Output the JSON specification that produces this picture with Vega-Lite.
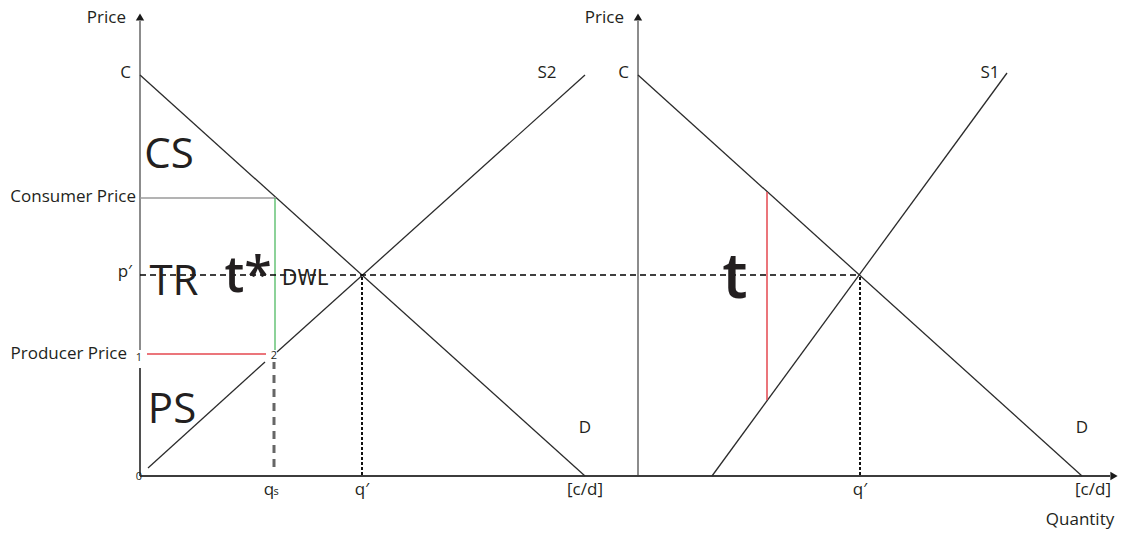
{
  "$schema": "https://vega.github.io/schema/vega-lite/v6.json",
  "autosize": {"type": "fit", "contains": "padding"},
  "width": 1126,
  "height": 533,
  "padding": 0,
  "background": "white",
  "config": {"view": {"stroke": null}, "text": {"font": "Open Sans"}},
  "datasets": {
    "segs": [
      {"kind": "axis", "x": 0, "y": 126, "x2": 0, "y2": 455},
      {"kind": "axis_dark", "x": 0, "y": 0, "x2": 0, "y2": 108},
      {"kind": "axis", "x": 498, "y": 0, "x2": 498, "y2": 455},
      {"kind": "xaxis", "x": 0, "y": 0, "x2": 970, "y2": 0},
      {"kind": "curve", "x": 0, "y": 401, "x2": 445, "y2": 0},
      {"kind": "curve", "x": 8, "y": 8, "x2": 125, "y2": 114},
      {"kind": "curve", "x": 137, "y": 124, "x2": 445, "y2": 401},
      {"kind": "curve", "x": 498, "y": 401, "x2": 942, "y2": 0},
      {"kind": "curve", "x": 572, "y": 0, "x2": 867, "y2": 403},
      {"kind": "consumer", "x": 0, "y": 278, "x2": 136, "y2": 278},
      {"kind": "green", "x": 135, "y": 278, "x2": 135, "y2": 126},
      {"kind": "red", "x": 7, "y": 122, "x2": 126, "y2": 122},
      {"kind": "red", "x": 627, "y": 284, "x2": 627, "y2": 76},
      {"kind": "p_dash", "x": 0, "y": 201, "x2": 720, "y2": 201},
      {"kind": "q_dash", "x": 222, "y": 1, "x2": 222, "y2": 201},
      {"kind": "q_dash", "x": 720, "y": 1, "x2": 720, "y2": 201},
      {"kind": "qs_dash", "x": 134, "y": 9, "x2": 134, "y2": 114}
    ],
    "arrows": [
      {"kind": "up", "x": 0, "y": 459},
      {"kind": "up", "x": 498, "y": 459},
      {"kind": "right", "x": 974, "y": 0}
    ],
    "labels": [
      {"role": "right", "text": "Price", "x": -14, "y": 458},
      {"role": "right", "text": "Price", "x": 484, "y": 458},
      {"role": "right", "text": "C", "x": -9, "y": 403},
      {"role": "right", "text": "C", "x": 489, "y": 403},
      {"role": "right", "text": "Consumer Price", "x": -4, "y": 279},
      {"role": "right", "text": "p′", "x": -8, "y": 204},
      {"role": "right", "text": "Producer Price", "x": -13, "y": 122},
      {"role": "center", "text": "S2", "x": 407, "y": 403},
      {"role": "center", "text": "S1", "x": 850, "y": 403},
      {"role": "center", "text": "D", "x": 445, "y": 48},
      {"role": "center", "text": "D", "x": 942, "y": 48},
      {"role": "center", "text": "q", "x": 129, "y": -14},
      {"role": "center", "text": "q′", "x": 222, "y": -14},
      {"role": "center", "text": "q′", "x": 720, "y": -14},
      {"role": "center", "text": "[c/d]", "x": 445, "y": -14},
      {"role": "center", "text": "[c/d]", "x": 953, "y": -14},
      {"role": "center", "text": "Quantity", "x": 940, "y": -44},
      {"role": "small", "text": "1", "x": -1, "y": 118},
      {"role": "small", "text": "2", "x": 134, "y": 120},
      {"role": "small", "text": "0", "x": -1, "y": -1},
      {"role": "small", "text": "s", "x": 136, "y": -16},
      {"role": "big", "text": "CS", "x": 29, "y": 321},
      {"role": "big", "text": "TR", "x": 34, "y": 194},
      {"role": "big", "text": "PS", "x": 32, "y": 66},
      {"role": "bold", "text": "t*", "x": 108, "y": 199},
      {"role": "narrow", "text": "DWL", "x": 165, "y": 198},
      {"role": "boldbig", "text": "t", "x": 595, "y": 197}
    ]
  },
  "encoding": {
    "x": {"field": "x", "type": "quantitative", "scale": {"domain": [-140, 986], "zero": false, "nice": false}, "axis": null},
    "y": {"field": "y", "type": "quantitative", "scale": {"domain": [-57, 476], "zero": false, "nice": false}, "axis": null}
  },
  "layer": [
    {"data": {"name": "segs"}, "transform": [{"filter": "datum.kind === 'axis'"}],
     "mark": {"type": "rule", "color": "#8c8c8c", "strokeWidth": 2},
     "encoding": {"x2": {"field": "x2"}, "y2": {"field": "y2"}}},
    {"data": {"name": "segs"}, "transform": [{"filter": "datum.kind === 'axis_dark' || datum.kind === 'xaxis'"}],
     "mark": {"type": "rule", "color": "#3c3c3c", "strokeWidth": 1.8},
     "encoding": {"x2": {"field": "x2"}, "y2": {"field": "y2"}}},
    {"data": {"name": "segs"}, "transform": [{"filter": "datum.kind === 'curve'"}],
     "mark": {"type": "rule", "color": "#2b2b2b", "strokeWidth": 1.3},
     "encoding": {"x2": {"field": "x2"}, "y2": {"field": "y2"}}},
    {"data": {"name": "segs"}, "transform": [{"filter": "datum.kind === 'consumer'"}],
     "mark": {"type": "rule", "color": "#9a9a9a", "strokeWidth": 1.3},
     "encoding": {"x2": {"field": "x2"}, "y2": {"field": "y2"}}},
    {"data": {"name": "segs"}, "transform": [{"filter": "datum.kind === 'green'"}],
     "mark": {"type": "rule", "color": "#5cbf6e", "strokeWidth": 1.4},
     "encoding": {"x2": {"field": "x2"}, "y2": {"field": "y2"}}},
    {"data": {"name": "segs"}, "transform": [{"filter": "datum.kind === 'red'"}],
     "mark": {"type": "rule", "color": "#e5474f", "strokeWidth": 1.5},
     "encoding": {"x2": {"field": "x2"}, "y2": {"field": "y2"}}},
    {"data": {"name": "segs"}, "transform": [{"filter": "datum.kind === 'p_dash'"}],
     "mark": {"type": "rule", "color": "#000000", "strokeWidth": 1.5, "strokeDash": [6, 4]},
     "encoding": {"x2": {"field": "x2"}, "y2": {"field": "y2"}}},
    {"data": {"name": "segs"}, "transform": [{"filter": "datum.kind === 'q_dash'"}],
     "mark": {"type": "rule", "color": "#111111", "strokeWidth": 2, "strokeDash": [3, 2]},
     "encoding": {"x2": {"field": "x2"}, "y2": {"field": "y2"}}},
    {"data": {"name": "segs"}, "transform": [{"filter": "datum.kind === 'qs_dash'"}],
     "mark": {"type": "rule", "color": "#666666", "strokeWidth": 3, "strokeDash": [8, 6]},
     "encoding": {"x2": {"field": "x2"}, "y2": {"field": "y2"}}},
    {"data": {"name": "arrows"},
     "mark": {"type": "point", "filled": true, "color": "#1a1a1a", "opacity": 1, "size": 70},
     "encoding": {"shape": {"field": "kind", "type": "nominal", "scale": {"domain": ["up", "right"], "range": ["triangle-up", "triangle-right"]}, "legend": null}}},
    {"data": {"name": "labels"}, "transform": [{"filter": "datum.role === 'right'"}],
     "mark": {"type": "text", "align": "right", "baseline": "middle", "fontSize": 17, "color": "#231f20"},
     "encoding": {"text": {"field": "text"}}},
    {"data": {"name": "labels"}, "transform": [{"filter": "datum.role === 'center'"}],
     "mark": {"type": "text", "align": "center", "baseline": "middle", "fontSize": 17, "color": "#231f20"},
     "encoding": {"text": {"field": "text"}}},
    {"data": {"name": "labels"}, "transform": [{"filter": "datum.role === 'small'"}],
     "mark": {"type": "text", "align": "center", "baseline": "middle", "fontSize": 11, "color": "#231f20"},
     "encoding": {"text": {"field": "text"}}},
    {"data": {"name": "labels"}, "transform": [{"filter": "datum.role === 'big'"}],
     "mark": {"type": "text", "align": "center", "baseline": "middle", "fontSize": 42, "color": "#231f20"},
     "encoding": {"text": {"field": "text"}}},
    {"data": {"name": "labels"}, "transform": [{"filter": "datum.role === 'bold'"}],
     "mark": {"type": "text", "align": "center", "baseline": "middle", "fontSize": 50, "fontWeight": 600, "color": "#231f20"},
     "encoding": {"text": {"field": "text"}}},
    {"data": {"name": "labels"}, "transform": [{"filter": "datum.role === 'boldbig'"}],
     "mark": {"type": "text", "align": "center", "baseline": "middle", "fontSize": 64, "fontWeight": 600, "color": "#231f20"},
     "encoding": {"text": {"field": "text"}}},
    {"data": {"name": "labels"}, "transform": [{"filter": "datum.role === 'narrow'"}],
     "mark": {"type": "text", "align": "center", "baseline": "middle", "fontSize": 22, "font": "Liberation Sans Narrow, DejaVu Sans Condensed, Roboto Condensed, sans-serif", "color": "#231f20"},
     "encoding": {"text": {"field": "text"}}}
  ]
}
